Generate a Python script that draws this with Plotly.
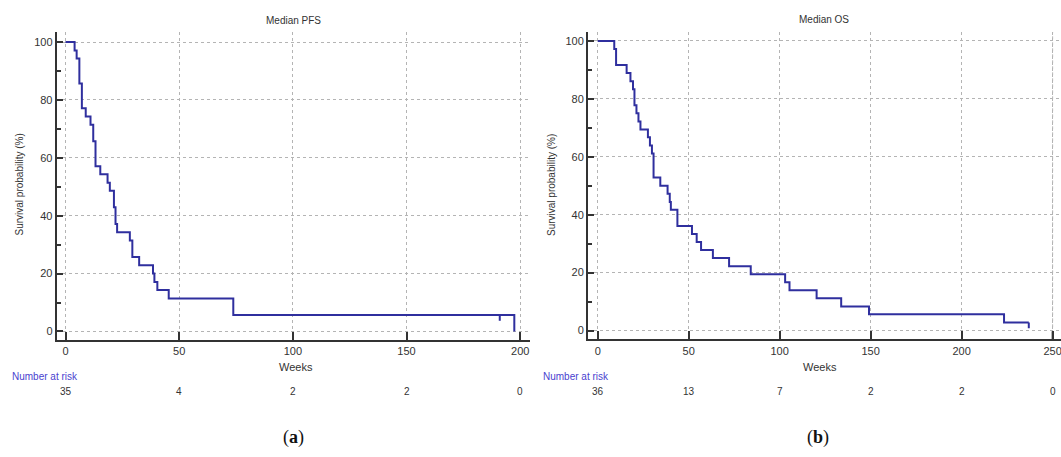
import plotly.graph_objects as go

# ---------------- data ----------------
pfs_weeks = [0, 4.0, 4.9, 6.1, 7.2, 8.9, 11.0, 12.2, 13.2, 15.3, 18.5, 19.5, 21.3, 22.0, 22.7,
             28.3, 29.4, 32.4, 38.5, 39.1, 40.4, 45.4, 73.8, 197.4]
pfs_surv = [100, 97.1, 94.3, 85.7, 77.1, 74.3, 71.4, 65.7, 57.1, 54.3, 51.4, 48.6, 42.9, 37.1, 34.3,
            31.4, 25.7, 22.9, 20.0, 17.1, 14.3, 11.4, 5.7, 0]
pfs_censor_weeks = [191.0]
pfs_censor_surv = [5.7]

os_weeks = [0, 9.1, 10.1, 15.9, 18.0, 19.4, 20.2, 21.3, 22.4, 23.5, 27.6, 28.7, 29.8, 30.7,
            34.4, 38.4, 39.6, 40.2, 43.8, 51.8, 54.4, 56.8, 63.3, 72.2, 84.1, 103.0, 105.4,
            120.3, 133.8, 149.1, 223.3, 236.9]
os_surv = [100, 97.2, 91.7, 88.9, 86.1, 83.3, 77.8, 75.0, 72.2, 69.4, 66.7, 63.9, 61.1, 52.8,
           50.0, 47.2, 44.4, 41.7, 36.1, 33.3, 30.6, 27.8, 25.0, 22.2, 19.4, 16.7, 13.9,
           11.1, 8.3, 5.6, 2.8, 2.8]
os_censor_weeks = [236.9]
os_censor_surv = [2.8]

pfs_risk_times = [0, 50, 100, 150, 200]
pfs_risk_counts = ["35", "4", "2", "2", "0"]
os_risk_times = [0, 50, 100, 150, 200, 250]
os_risk_counts = ["36", "13", "7", "2", "2", "0"]

titles = ["Median PFS", "Median OS"]
captions = ["(<b>a</b>)", "(<b>b</b>)"]

# ---------------- style ----------------
LINE = "#2f2f9e"
AX = "#333333"
GRID = "#b4b4b4"
FONT = "Liberation Sans"
W, H = 1061, 457
CENSOR_LEN = 2.0

def px(p):
    return p / W

def py(p):
    return 1 - p / H

fig = go.Figure()

fig.add_trace(go.Scatter(x=pfs_weeks, y=pfs_surv, mode="lines", line=dict(color=LINE, width=2, shape="hv"),
                         xaxis="x", yaxis="y", showlegend=False))
fig.add_trace(go.Scatter(x=os_weeks, y=os_surv, mode="lines", line=dict(color=LINE, width=2, shape="hv"),
                         xaxis="x2", yaxis="y2", showlegend=False))

for cw, cs, xa, ya in [(pfs_censor_weeks, pfs_censor_surv, "x", "y"), (os_censor_weeks, os_censor_surv, "x2", "y2")]:
    xs, ys = [], []
    for w, s in zip(cw, cs):
        xs += [w, w, None]
        ys += [s, s - CENSOR_LEN, None]
    fig.add_trace(go.Scatter(x=xs, y=ys, mode="lines", line=dict(color=LINE, width=2),
                             xaxis=xa, yaxis=ya, showlegend=False))

tickfont = dict(family=FONT, size=11, color=AX)

def xaxis(domain, rng, dtick):
    return dict(domain=domain, range=rng, dtick=dtick, tick0=0, showline=True, linewidth=2, linecolor=AX,
                ticks="inside", ticklen=8, tickwidth=2, tickcolor=AX, showgrid=True, gridcolor=GRID,
                griddash="dot", gridwidth=1, zeroline=False, tickfont=tickfont, fixedrange=True,
                ticklabeloverflow="allow")

def yaxis(domain, rng, anchor):
    return dict(domain=domain, range=rng, dtick=20, tick0=0, anchor=anchor, showline=True, linewidth=2,
                linecolor=AX, ticks="inside", ticklen=6, tickwidth=2, tickcolor=AX, showgrid=True,
                gridcolor=GRID, griddash="dot", gridwidth=1, zeroline=False, tickfont=tickfont,
                minor=dict(dtick=10, ticks="inside", ticklen=4, tickwidth=1.5, tickcolor=AX, showgrid=False),
                fixedrange=True)

x1 = xaxis([px(56.7), px(530)], [-3.87, 204.3], 50)
x1["anchor"] = "y"
x2 = xaxis([px(588), 1.0], [-5.33, 254.6], 50)
x2["anchor"] = "y2"

y2_dom = [py(339.3), py(32.2)]
fig.update_layout(
    width=W, height=H, autosize=False,
    margin=dict(l=0, r=0, t=0, b=0),
    paper_bgcolor="white", plot_bgcolor="white",
    xaxis=x1,
    yaxis=yaxis([py(340), py(32.3)], [-2.94, 103.35], "x"),
    xaxis2=x2,
    yaxis2=yaxis(y2_dom, [-3.04, 103.0], "x2"),
)

# last gridline + tick of the right x-axis (plotly drops it next to the page edge)
last_tick = os_risk_times[-1]
fig.add_shape(type="line", xref="x2", yref="paper", x0=last_tick, x1=last_tick, y0=y2_dom[0], y1=y2_dom[1],
              line=dict(color=GRID, width=1, dash="dot"), layer="below")
fig.add_shape(type="line", xref="x2", yref="paper", x0=last_tick, x1=last_tick, y0=y2_dom[0],
              y1=y2_dom[0] + 8 / H, line=dict(color=AX, width=2))

ann = []
# titles
for t, cx, cy in zip(titles, [293, 824], [20.6, 19.6]):
    ann.append(dict(text=t, x=px(cx), y=py(cy), xref="paper", yref="paper", showarrow=False,
                    font=dict(family=FONT, size=10, color=AX), xanchor="center", yanchor="middle"))
# x titles
for cx in [296, 820]:
    ann.append(dict(text="Weeks", x=px(cx), y=py(367), xref="paper", yref="paper", showarrow=False,
                    font=dict(family=FONT, size=11, color=AX), xanchor="center", yanchor="middle"))
# y titles
for cx in [18.5, 551]:
    ann.append(dict(text="Survival probability (%)", x=px(cx), y=py(185), xref="paper", yref="paper",
                    showarrow=False, textangle=-90, font=dict(family=FONT, size=10, color=AX),
                    xanchor="center", yanchor="middle"))
# number at risk labels
for lx in [10, 541]:
    ann.append(dict(text="Number at risk", x=px(lx), y=py(376), xref="paper", yref="paper", showarrow=False,
                    font=dict(family=FONT, size=10, color="#4a3fcf"), xanchor="left", yanchor="middle"))
for times, counts, xr in [(pfs_risk_times, pfs_risk_counts, "x"), (os_risk_times, os_risk_counts, "x2")]:
    for t, c in zip(times, counts):
        ann.append(dict(text=c, x=t, y=py(391), xref=xr, yref="paper", showarrow=False,
                        font=dict(family=FONT, size=10, color=AX), xanchor="center", yanchor="middle"))
# captions
for cap, cx in zip(captions, [293, 818]):
    ann.append(dict(text=cap, x=px(cx), y=py(437), xref="paper", yref="paper", showarrow=False,
                    font=dict(family="Liberation Serif", size=18, color="#111111"),
                    xanchor="center", yanchor="middle"))

fig.update_layout(annotations=ann)

fig.write_html("out.html", config={"displayModeBar": False},
               post_script="document.body.style.margin='0';document.body.style.overflow='hidden';")
